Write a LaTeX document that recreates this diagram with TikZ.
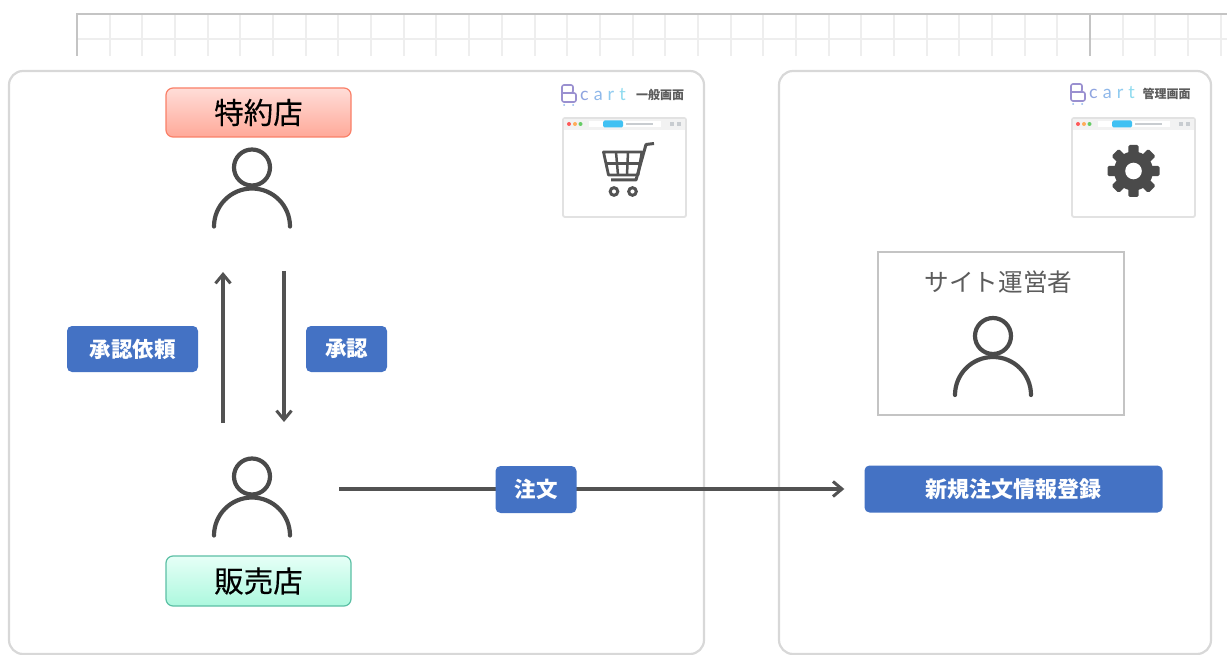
\documentclass[tikz,border=0pt]{standalone}
\usepackage{fontspec}
\setmainfont{Noto Sans CJK JP}
\newfontfamily\rolefont[FakeBold=0.25]{Noto Sans CJK JP}
\newfontfamily\logofont{Lato}
\usetikzlibrary{arrows.meta}
\definecolor{ink}{HTML}{4A4A4A}
\definecolor{arrowink}{HTML}{525252}
\definecolor{panelline}{HTML}{D8D8D8}
\definecolor{barblue}{HTML}{4472C4}
\definecolor{gridlight}{HTML}{EEEEEE}
\definecolor{griddark}{HTML}{C4C4C4}
\definecolor{winline}{HTML}{E2E2E2}
\definecolor{winbar}{HTML}{F2F2F2}
\definecolor{wingrey}{HTML}{C8CCD0}
\definecolor{redtop}{HTML}{FFDDD8}
\definecolor{redbot}{HTML}{FFA999}
\definecolor{redline}{HTML}{FA8068}
\definecolor{greentop}{HTML}{E6FFF7}
\definecolor{greenbot}{HTML}{ACF8DE}
\definecolor{greenline}{HTML}{5CC0A5}
\definecolor{logoB}{HTML}{9A90D0}
\definecolor{logoC}{HTML}{8FA4E0}
\definecolor{logoA}{HTML}{8FB8EA}
\definecolor{logoR}{HTML}{8FCBF0}
\definecolor{logoT}{HTML}{8FDBEF}
\tikzset{
  x=1pt,y=-1pt,
  panel/.style={draw=panelline,line width=2.2pt,rounded corners=14pt,fill=white},
  role/.style={rounded corners=7pt,line width=1.2pt,minimum width=185pt,minimum height=49pt,inner sep=0pt,font=\rolefont\fontsize{29.5}{31}\selectfont,text=black},
  tag/.style={fill=barblue,rounded corners=5pt,inner sep=0pt,text=white,font=\bfseries\fontsize{21.5}{24}\selectfont},
  flow/.style={draw=arrowink,line width=3.3pt,-{Straight Barb[length=9pt,width=15pt,line width=3pt]}},
  personline/.style={draw=ink,line width=4.2pt,line cap=round},
  windowbox/.style={draw=winline,line width=1.8pt,fill=white,rounded corners=2pt},
  brandtext/.style={text=ink!90,inner sep=0pt,font=\bfseries\fontsize{12}{13}\selectfont},
  logotext/.style={inner sep=0pt,anchor=west,font=\logofont\fontsize{18}{19}\selectfont},
}
\newcommand{\personicon}[2]{% x, y of head centre
  \draw[personline] (#1,#2) circle[radius=18];
  \draw[personline] (#1-38,#2+59) arc[start angle=180,end angle=360,radius=38];
}
\newcommand{\browser}[2]{% left, top
  \draw[windowbox] (#1,#2) rectangle (#1+123,#2+99);
  \fill[winbar] (#1+1,#2+1) rectangle (#1+122,#2+12);
  \fill[red!65!white] (#1+6,#2+6) circle[radius=2];
  \fill[orange!65!white] (#1+12,#2+6) circle[radius=2];
  \fill[green!50!gray!80] (#1+17.5,#2+6) circle[radius=2];
  \fill[white] (#1+26,#2+3) rectangle (#1+98,#2+9);
  \fill[cyan!75!white,rounded corners=1.5pt] (#1+40,#2+2.5) rectangle (#1+60,#2+9.5);
  \fill[wingrey] (#1+63,#2+5.2) rectangle (#1+90,#2+6.8);
  \fill[wingrey] (#1+107,#2+4) rectangle (#1+111,#2+8);
  \fill[wingrey] (#1+114,#2+4) rectangle (#1+118,#2+8);
}
\newcommand{\logomark}[2]{% left, top of B
  \draw[logoB,line width=1.6pt,rounded corners=2pt] (#1+1,#2+17) -- (#1+1,#2) -- (#1+12,#2) -- (#1+12,#2+8) -- (#1+1,#2+8) -- (#1+15,#2+8) -- (#1+15,#2+17) -- cycle;
  \fill[logoA] (#1+3,#2+20) circle[radius=1];
  \fill[logoA] (#1+12,#2+20) circle[radius=1];
}
\newcommand{\cartword}{{\color{logoC}c}\kern5pt{\color{logoA}a}\kern5pt{\color{logoR}r}\kern5pt{\color{logoT}t}}
\begin{document}
\begin{tikzpicture}
\useasboundingbox (0,0) rectangle (1227,655);
% ruled strip
\foreach \k in {1,...,35}{
  \pgfmathtruncatemacro{\gx}{round(77+32.68*\k)}
  \draw[gridlight,line width=2pt] (\gx,14) -- (\gx,56);
}
\draw[gridlight,line width=2pt] (77,39) -- (1227,39);
\draw[griddark,line width=1.6pt] (77,56) -- (77,14) -- (1227,14);
\draw[griddark,line width=1.6pt] (1090,14) -- (1090,56);
% panels
\draw[panel] (9,71) rectangle (704,654);
\draw[panel] (779,71) rectangle (1211,654);
% left branding
\logomark{561}{85}
\node[logotext] (brandA) at (580,95) {\cartword};
\node[brandtext] (screenA) at (660,94.5) {一般画面};
\browser{563}{118}
% cart icon
\begin{scope}[draw=ink!95]
\draw[line width=3pt,line join=round] (654,143.5) -- (646,144.5) -- (636,180) -- (611,180);
\draw[line width=2.8pt,line join=round] (603.5,152) -- (642,152) -- (638,175) -- (608.5,175) -- cycle;
\draw[line width=2.5pt] (605,163.5) -- (640,163.5);
\draw[line width=2.5pt] (616,152) -- (618,175) (628,152) -- (627,175);
\draw[line width=3pt] (614,191.5) circle[radius=3.8];
\draw[line width=3pt] (632.5,191.5) circle[radius=3.8];
\end{scope}
% right branding
\logomark{1070}{84}
\node[logotext] (brandB) at (1089,93) {\cartword};
\node[brandtext] (screenB) at (1166.5,93.5) {管理画面};
\browser{1072}{118}
% gear icon
\begin{scope}[shift={(1133.5,171)}]
\fill[ink] (0,0) circle[radius=19.5];
\foreach \a in {0,45,...,315}{
  \fill[ink,rotate=\a,rounded corners=1.5pt] (-5.2,-26) rectangle (5.2,-14);
}
\fill[white] (0,0) circle[radius=8.3];
\end{scope}
% role boxes
\node[role,draw=redline,top color=redtop,bottom color=redbot] (dealer) at (258.5,112.5) {特約店};
\node[role,draw=greenline,top color=greentop,bottom color=greenbot,minimum height=50pt] (seller) at (258.5,581) {販売店};
% people
\personicon{252}{167.5}
\personicon{252}{476.5}
% vertical arrows
\coordinate (upStart) at (223,423);
\coordinate (upEnd) at (223,272);
\coordinate (downStart) at (284,271);
\coordinate (downEnd) at (284,422);
\draw[flow] (upStart) -- (upEnd);
\draw[flow] (downStart) -- (downEnd);
\node[tag,minimum width=131pt,minimum height=46pt] (request) at (132.5,349) {承認依頼};
\node[tag,minimum width=81pt,minimum height=46pt] (approve) at (346.5,349) {承認};
% site operator
\node[draw=griddark,line width=1.6pt,fill=white,minimum width=246pt,minimum height=163pt] (operatorbox) at (1001,333.5) {};
\node[inner sep=0pt,text=ink!90,font=\fontsize{24.6}{26}\selectfont] (operator) at (998.5,282) {サイト運営者};
\personicon{993}{336}
% order flow
\node[tag,minimum width=298pt,minimum height=47pt,font=\bfseries\fontsize{22}{24}\selectfont] (register) at (1013.5,489) {新規注文情報登録};
\coordinate (orderStart) at (339,489);
\draw[flow,shorten >=20pt] (orderStart) -- (register.west);
\node[tag,minimum width=81pt,minimum height=47pt] (order) at (536,489.5) {注文};
\end{tikzpicture}
\end{document}
